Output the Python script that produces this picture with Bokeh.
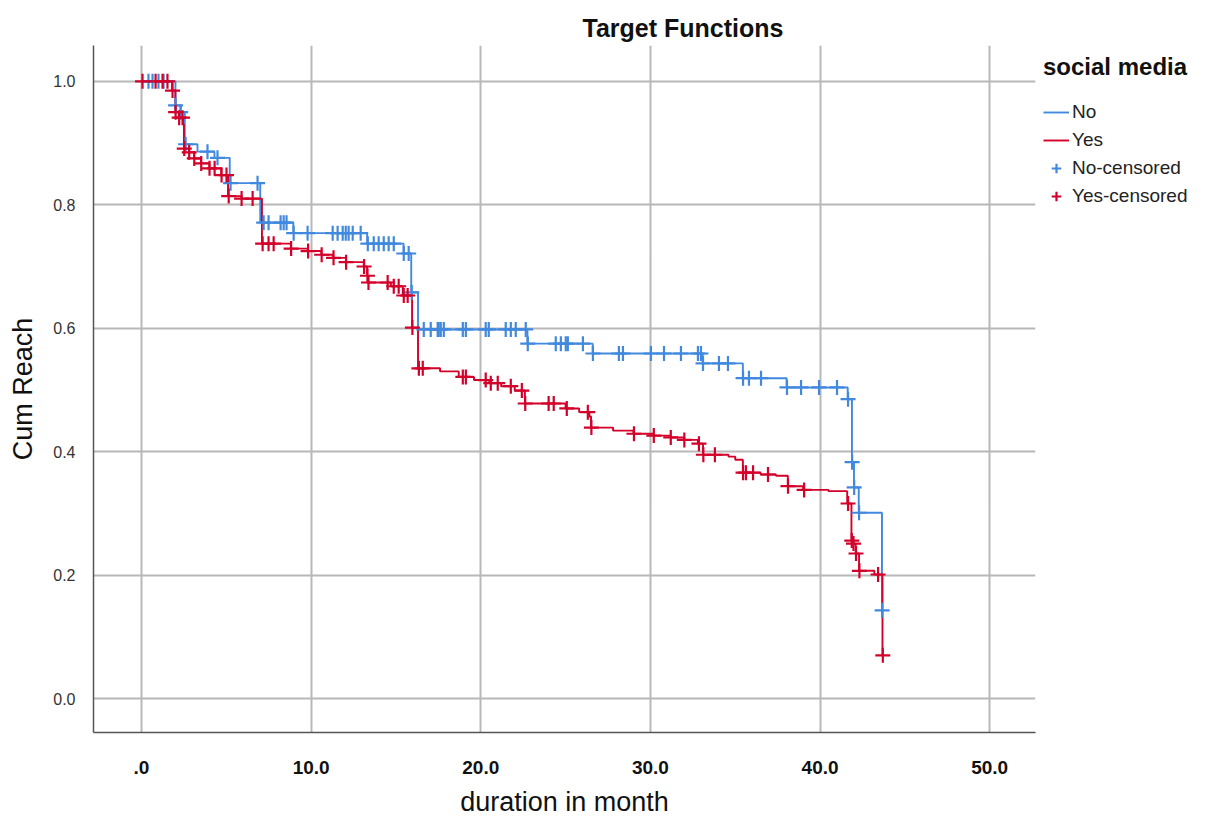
import numpy as np
from bokeh.plotting import figure
from bokeh.models import FixedTicker, Legend, LegendItem
from bokeh.embed import file_html
from bokeh.resources import INLINE

# ---------------- data (months, cumulative reach) ----------------
no_event_t = [2.0, 2.3, 2.55, 3.3, 4.3, 5.2, 7.0, 8.95, 13.3, 15.45, 15.9, 16.3,
              22.75, 26.6, 33.08, 35.45, 38.03, 41.63, 41.88, 42.0, 42.28, 43.65]
no_event_s = [0.961, 0.950, 0.898, 0.886, 0.876, 0.835, 0.771, 0.754, 0.737, 0.721,
              0.658, 0.598, 0.575, 0.559, 0.543, 0.519, 0.504, 0.485, 0.383, 0.342,
              0.301, 0.143]
no_censor_t = [0.41, 0.65, 1.00, 1.30, 2.01, 2.31, 2.60, 3.89, 4.48, 5.25, 6.84, 7.20,
               7.49, 8.20, 8.38, 8.55, 8.97, 9.79, 11.27, 11.56, 11.86, 12.04, 12.21,
               12.45, 12.92, 13.34, 13.69, 13.98, 14.28, 14.57, 14.87, 15.46, 15.75,
               15.93, 16.64, 17.05, 17.46, 17.52, 17.64, 17.82, 18.94, 19.12, 20.29,
               20.47, 21.47, 21.77, 22.06, 22.65, 22.77, 24.42, 24.72, 25.01, 25.13,
               26.02, 26.61, 28.14, 28.38, 30.03, 30.80, 31.80, 32.80, 32.98, 33.10,
               34.04, 34.57, 35.46, 35.81, 36.52, 38.05, 38.88, 39.94, 41.00, 41.65,
               41.89, 42.01, 42.30, 43.66]

yes_event_t = [1.8, 2.0, 2.2, 2.45, 2.5, 2.8, 3.1, 3.5, 4.0, 4.7, 5.1, 5.9, 7.1, 8.8,
               9.8, 10.6, 11.3, 12.05, 13.1, 13.3, 13.36, 14.7, 15.4, 15.95, 16.3, 17.6,
               18.7, 19.6, 20.5, 21.2, 22.0, 22.6, 25.0, 25.8, 26.4, 26.5, 27.8, 29.0,
               30.2, 31.2, 32.0, 32.8, 33.1, 34.6, 35.0, 35.45, 36.5, 37.4, 38.1, 39.0,
               40.5, 41.6, 41.85, 41.95, 42.1, 42.3, 43.2, 43.68]
yes_event_s = [0.985, 0.950, 0.941, 0.930, 0.891, 0.885, 0.875, 0.867, 0.859, 0.848,
               0.814, 0.810, 0.737, 0.729, 0.725, 0.719, 0.714, 0.707, 0.700, 0.685,
               0.674, 0.668, 0.653, 0.601, 0.535, 0.530, 0.521, 0.516, 0.511, 0.506,
               0.499, 0.478, 0.470, 0.464, 0.457, 0.439, 0.434, 0.429, 0.426, 0.423,
               0.419, 0.413, 0.395, 0.392, 0.387, 0.366, 0.363, 0.361, 0.344, 0.338,
               0.336, 0.316, 0.256, 0.251, 0.235, 0.207, 0.201, 0.070]
yes_censor_t = [0.06, 0.83, 1.24, 1.53, 1.83, 2.01, 2.22, 2.42, 2.52, 2.81, 3.11, 3.52,
                4.01, 4.31, 4.72, 5.01, 5.14, 5.90, 6.55, 7.14, 7.49, 7.79, 8.82, 9.82,
                10.62, 11.32, 12.06, 13.12, 13.32, 13.38, 14.51, 14.87, 15.16, 15.46,
                15.69, 15.97, 16.35, 16.58, 18.94, 19.12, 20.29, 20.59, 21.00, 21.77,
                22.42, 22.62, 24.00, 24.30, 25.07, 26.31, 26.52, 29.03, 30.20, 31.20,
                32.00, 32.86, 33.12, 33.80, 35.46, 35.63, 36.05, 36.93, 38.11, 39.06,
                41.65, 41.87, 41.97, 42.12, 42.32, 43.42, 43.70]

x_ticks = [0, 10, 20, 30, 40, 50]
x_tick_labels = [".0", "10.0", "20.0", "30.0", "40.0", "50.0"]
y_ticks = [0.0, 0.2, 0.4, 0.6, 0.8, 1.0]
y_tick_labels = ["0.0", "0.2", "0.4", "0.6", "0.8", "1.0"]

BLUE = "#4189de"
RED = "#d3002a"


def curve(ev_t, ev_s):
    t = np.array([0.0] + ev_t)
    s = np.array([1.0] + ev_s)
    return t, s


def censor_y(t, s, ct):
    idx = np.searchsorted(t, np.array(ct), side="right") - 1
    return s[idx]


no_t, no_s = curve(no_event_t, no_event_s)
yes_t, yes_s = curve(yes_event_t, yes_event_s)

p = figure(frame_width=942, frame_height=687,
           x_range=(-2.83, 52.7), y_range=(-0.055, 1.058),
           output_backend="svg", toolbar_location=None,
           min_border_left=93, min_border_top=45, min_border_bottom=70,
           min_border_right=0, background_fill_color="white",
           border_fill_color="white", outline_line_color=None)

p.title.text = "Target Functions"
p.title.align = "left"
p.title.offset = 489
p.title.standoff = 7
p.title.text_font = "Liberation Sans"
p.title.text_font_size = "25px"
p.title.text_font_style = "bold"
p.title.text_color = "#111111"

# grid
p.xgrid.ticker = FixedTicker(ticks=x_ticks)
p.ygrid.ticker = FixedTicker(ticks=y_ticks)
for g in (p.xgrid, p.ygrid):
    g.grid_line_color = "#b8b8b8"
    g.grid_line_width = 2

# axes
p.xaxis.ticker = FixedTicker(ticks=x_ticks)
p.yaxis.ticker = FixedTicker(ticks=y_ticks)
p.xaxis.major_label_overrides = {t: l for t, l in zip(x_ticks, x_tick_labels)}
p.yaxis.major_label_overrides = {t: l for t, l in zip(y_ticks, y_tick_labels)}
for ax in (p.xaxis, p.yaxis):
    ax.axis_line_color = "#555555"
    ax.axis_line_width = 1.5
    ax.major_tick_in = 0
    ax.major_tick_out = 0
    ax.minor_tick_line_color = None
    ax.axis_label_text_font = "Liberation Sans"
    ax.axis_label_text_font_style = "normal"
    ax.axis_label_text_font_size = "27px"
    ax.axis_label_text_color = "#111111"

p.xaxis.axis_label = "duration in month"
p.xaxis.major_label_text_font = "Liberation Sans"
p.xaxis.major_label_text_font_style = "bold"
p.xaxis.major_label_text_font_size = "19px"
p.xaxis.major_label_text_color = "#111111"
p.xaxis.major_label_standoff = 28
p.xaxis.axis_label_standoff = 10

p.yaxis.axis_label = "Cum Reach"
p.yaxis.major_label_text_font = "Liberation Sans"
p.yaxis.major_label_text_font_size = "16px"
p.yaxis.major_label_text_color = "#333333"
p.yaxis.major_label_standoff = 18
p.yaxis.axis_label_standoff = 12

# curves
r_no = p.step(no_t, no_s, mode="after", line_color=BLUE, line_width=1.9)
r_yes = p.step(yes_t, yes_s, mode="after", line_color=RED, line_width=1.9)
r_noc = p.scatter(no_censor_t, censor_y(no_t, no_s, no_censor_t), marker="cross",
                  size=15, line_color=BLUE, line_width=2.2)
r_yesc = p.scatter(yes_censor_t, censor_y(yes_t, yes_s, yes_censor_t), marker="cross",
                   size=15, line_color=RED, line_width=2.2)

legend = Legend(items=[LegendItem(label="No", renderers=[r_no]),
                       LegendItem(label="Yes", renderers=[r_yes]),
                       LegendItem(label="No-censored", renderers=[r_noc]),
                       LegendItem(label="Yes-censored", renderers=[r_yesc])],
                title="social media", location="top_left")
legend.title_text_font = "Liberation Sans"
legend.title_text_font_style = "bold"
legend.title_text_font_size = "24px"
legend.title_text_color = "#111111"
legend.title_standoff = 19
legend.label_text_font = "Liberation Sans"
legend.label_text_font_size = "19px"
legend.label_text_color = "#222222"
legend.glyph_width = 26
legend.glyph_height = 24
legend.label_height = 24
legend.spacing = 4
legend.label_standoff = 3
legend.padding = 11
legend.margin = 8
legend.border_line_color = None
legend.background_fill_alpha = 0
p.add_layout(legend, "right")

open("out.html", "w").write(file_html(p, INLINE))
